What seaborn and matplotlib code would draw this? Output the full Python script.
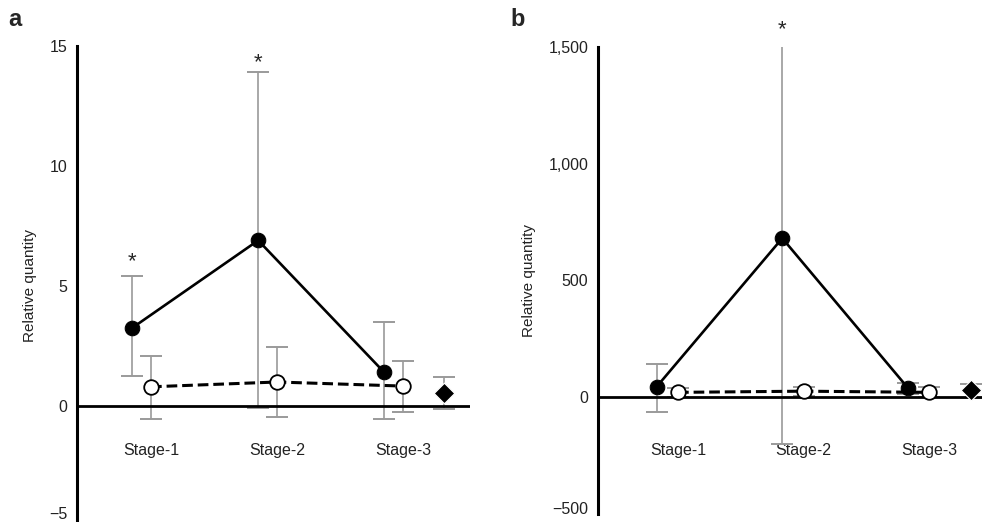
import numpy as np
import pandas as pd
import matplotlib
matplotlib.use("Agg")
import matplotlib.pyplot as plt
import matplotlib.transforms as mtransforms
import seaborn as sns

stages = ["Stage-1", "Stage-2", "Stage-3"]

# Panel a
a_filled = [3.25, 6.9, 1.4]
a_filled_hi = [5.4, 13.9, 3.5]
a_filled_lo = [1.25, -0.1, -0.55]
a_open = [0.8, 1.0, 0.83]
a_open_hi = [2.08, 2.45, 1.88]
a_open_lo = [-0.55, -0.45, -0.24]
a_diamond = 0.55
a_diamond_hi = 1.2
a_diamond_lo = -0.12
a_stars = [6.0, 14.3]  # above Stage-1 and Stage-2 filled

# Panel b
b_filled = [45, 681, 40]
b_filled_hi = [143, 1541, 62]
b_filled_lo = [-65, -200, 15]
b_open = [21, 26, 21]
b_open_hi = [40, 45, 45]
b_open_lo = [2, 5, 0]
b_diamond = 30
b_diamond_hi = 56
b_diamond_lo = -3
b_stars = [None, 1575]

a_yticks = [-5, 0, 5, 10, 15]
b_yticks = [-500, 0, 500, 1000, 1500]

sns.set_style("white")
plt.rcParams["font.family"] = ["Liberation Sans", "DejaVu Sans"]

fig = plt.figure(figsize=(9.82, 5.22), dpi=100)

W, H = 982, 522


def make_ax(left_px, right_px, top_px, bottom_px):
    return fig.add_axes([left_px / W, 1 - bottom_px / H,
                         (right_px - left_px) / W, (bottom_px - top_px) / H])


ERR_C = "#9a9a9a"
TXT_C = "#222222"


def draw_panel(ax, filled, fhi, flo, opn, ohi, olo, dia, dhi, dlo, stars,
               ylim, yticks, xlim, foff, dia_x, ytickfmt, xpad):
    x = np.arange(len(stages))
    xf = x + foff
    xo = x.astype(float)
    # error bars
    for xs, vals, hi, lo in [(xf, filled, fhi, flo), (xo, opn, ohi, olo)]:
        vals = np.array(vals, float)
        yerr = np.vstack([vals - np.array(lo), np.array(hi) - vals])
        ax.errorbar(xs, vals, yerr=yerr, fmt="none", ecolor=ERR_C,
                    elinewidth=1.2, capsize=8, capthick=1.4, zorder=2)
    ax.errorbar([dia_x], [dia], yerr=[[dia - dlo], [dhi - dia]], fmt="none",
                ecolor=ERR_C, elinewidth=1.2, capsize=8, capthick=1.4, zorder=2)
    ax.axhline(0, color="black", lw=2.0, zorder=3)
    df_f = pd.DataFrame({"x": xf, "y": filled})
    df_o = pd.DataFrame({"x": xo, "y": opn})
    sns.lineplot(data=df_f, x="x", y="y", ax=ax, color="black", lw=1.9,
                 marker="o", markersize=10.5, markerfacecolor="black",
                 markeredgecolor="black", zorder=4)
    sns.lineplot(data=df_o, x="x", y="y", ax=ax, color="black", lw=2.2,
                 linestyle=(0, (3.5, 1.6)), marker="o", markersize=10.5,
                 markerfacecolor="white", markeredgecolor="black",
                 markeredgewidth=1.3, zorder=5)
    sns.scatterplot(x=[dia_x], y=[dia], ax=ax, marker="D", s=110,
                    color="black", zorder=5)
    for i, s in enumerate(stars):
        if s is not None:
            ax.text(xf[i], s, "*", ha="center", va="center", fontsize=16)
    ax.set_xlim(*xlim)
    ax.set_ylim(*ylim)
    ax.set_yticks(yticks)
    ax.set_yticklabels([ytickfmt(v) for v in yticks])
    ax.set_xticks(x)
    ax.set_xticklabels(stages)
    for sp in ["top", "right"]:
        ax.spines[sp].set_visible(False)
    ax.spines["bottom"].set_position(("data", 0))
    ax.spines["bottom"].set_visible(False)
    ax.spines["left"].set_linewidth(2.2)
    ax.spines["left"].set_color("black")
    ax.tick_params(axis="y", length=0, pad=7, labelsize=11.5, colors=TXT_C)
    ax.tick_params(axis="x", length=0, pad=xpad, labelsize=11.5, colors=TXT_C)
    ax.set_xlabel("")
    ax.set_ylabel("Relative quantity", fontsize=11, color=TXT_C)
    ax.patch.set_alpha(0)


def fmt_a(v):
    return "\u2212" + str(abs(v)) if v < 0 else str(v)


def fmt_b(v):
    s = f"{abs(v):,}"
    return "\u2212" + s if v < 0 else s


ax1 = make_ax(77, 470, 46, 526)
draw_panel(ax1, a_filled, a_filled_hi, a_filled_lo, a_open, a_open_hi, a_open_lo,
           a_diamond, a_diamond_hi, a_diamond_lo, a_stars,
           (-5, 15), a_yticks, (-0.587, 2.53), -0.15, 2.32, fmt_a, 27)
ax1.yaxis.set_label_coords((37 - 77) / 393, 0.5)

ax2 = make_ax(598, 982, 47, 514)
draw_panel(ax2, b_filled, b_filled_hi, b_filled_lo, b_open, b_open_hi, b_open_lo,
           b_diamond, b_diamond_hi, b_diamond_lo, b_stars,
           (-500, 1500), b_yticks, (-0.637, 2.42), -0.17, 2.33, fmt_b, 33)
ax2.yaxis.set_label_coords((536 - 598) / 384, 0.5)

# lowest tick labels sit slightly higher, as in the reference
fig.canvas.draw()
for ax, dy in ((ax1, 13), (ax2, 6)):
    lab = ax.get_yticklabels()[0]
    lab.set_transform(lab.get_transform() +
                      mtransforms.ScaledTranslation(0, dy / 100, fig.dpi_scale_trans))

fig.text(8 / W, 1 - 20 / H, "a", fontsize=17, fontweight="bold", va="center", ha="left")
fig.text(510 / W, 1 - 20 / H, "b", fontsize=17, fontweight="bold", va="center", ha="left")

fig.savefig("out.png", dpi=100)
